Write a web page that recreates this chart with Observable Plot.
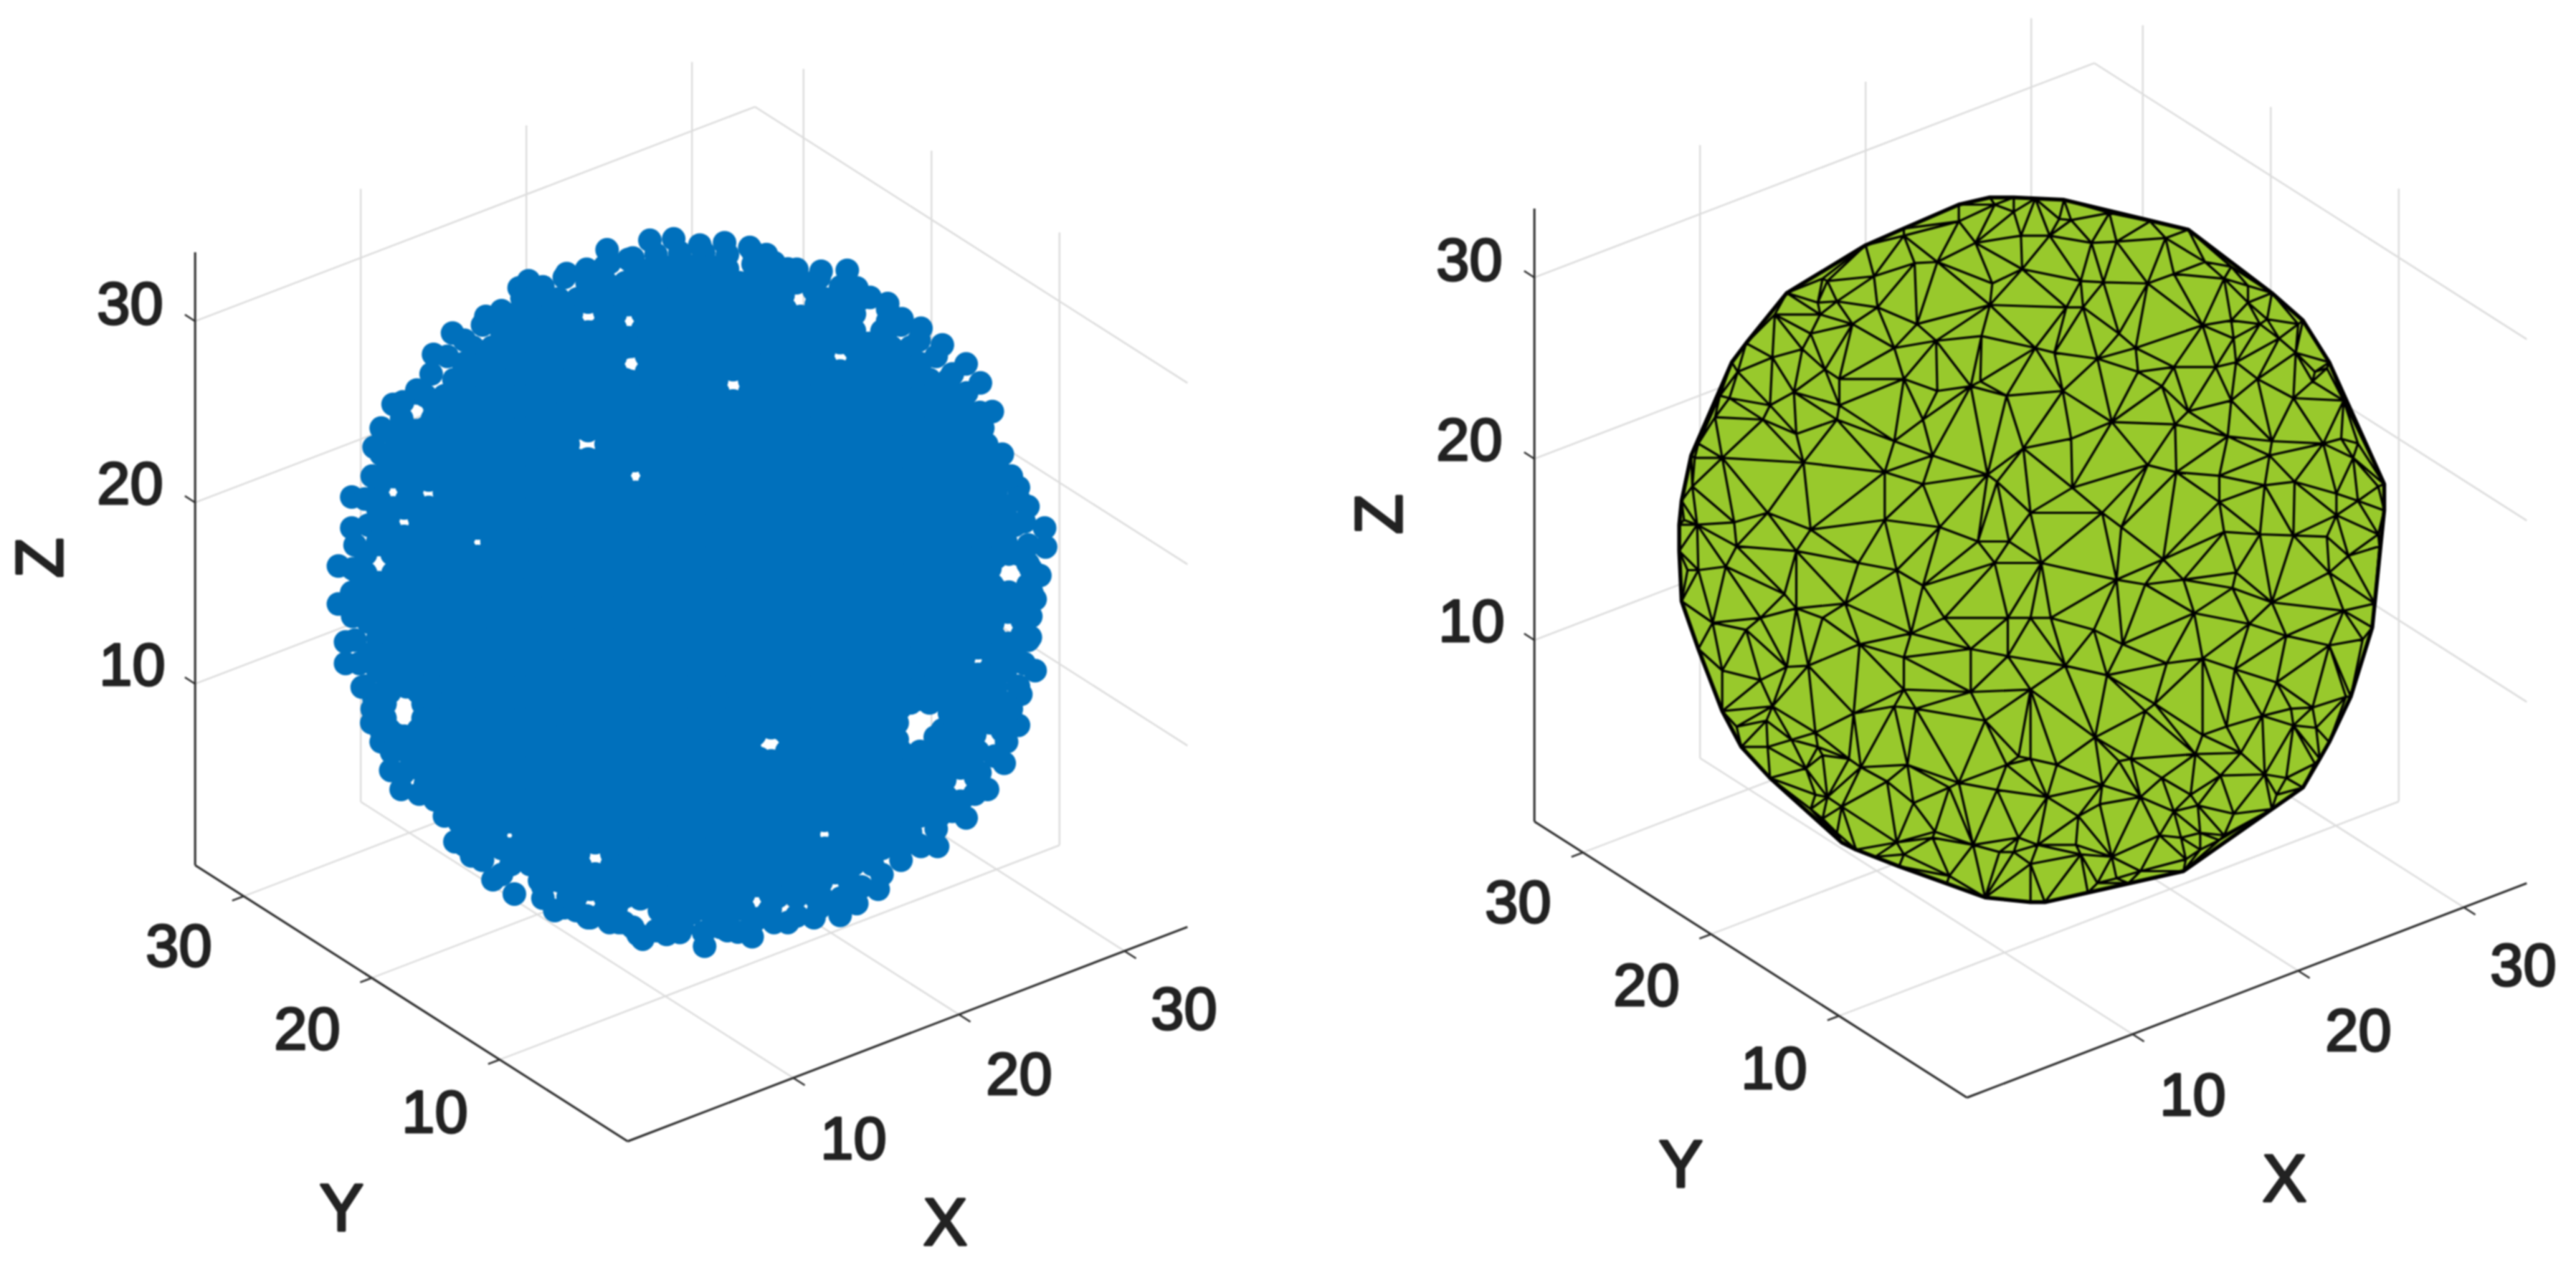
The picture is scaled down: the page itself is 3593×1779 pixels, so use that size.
<!DOCTYPE html>
<html><head><meta charset="utf-8">
<style>html,body{margin:0;padding:0;background:#fff}svg{display:block}</style>
<script src="https://cdn.jsdelivr.net/npm/d3@7"></script>
<script src="https://cdn.jsdelivr.net/npm/@observablehq/plot@0.6"></script>
</head><body><div id="chart"></div>
<script>
// axis ticks (data units) shared by both panels
const ticks = [10, 20, 30];
const axisMax = 33.8;
// projection of the 3-D box
const origin = [875, 1592];
const xVec = [23.1, -8.85], yVec = [-17.85, -11.4], zVec = [0, -25.3];
const panelShift = [[0, 0], [1868, -61]];

// tick label anchors
const zTickLabels = [[10, 184, 929], [20, 181, 676], [30, 181, 425]];
const yTickLabels = [[10, 606, 1553], [20, 428, 1437], [30, 249, 1321]];
const xTickLabels = [[10, 1190, 1590], [20, 1421, 1500], [30, 1651, 1409]];
const axisTitles = [["X", 1318, 1707, 0], ["Y", 476, 1687, 0], ["Z", 57, 778, -90]];

const cloudRim = [[605,65],[650,85],[695,45],[745,42],[800,55],[852,50],[905,60],[940,75],[925,110],[960,110],[985,105],[1055,110],[1110,108],[1130,145],[1195,178],[1225,210],[1265,230],[1310,265],[1360,305],[1390,345],[1415,405],[1395,440],[1425,515],[1470,565],[1490,605],[1525,650],[1527,690],[1515,750],[1505,800],[1495,880],[1505,950],[1475,1000],[1470,1065],[1440,1145],[1405,1200],[1360,1260],[1300,1320],[1265,1320],[1175,1410],[1130,1440],[1095,1465],[1040,1470],[985,1480],[910,1510],[880,1500],[810,1530],[730,1505],[680,1515],[630,1480],[565,1470],[495,1455],[470,1405],[410,1420],[365,1390],[320,1340],[285,1310],[295,1270],[210,1210],[172,1200],[150,1160],[130,1100],[110,1060],[115,1010],[90,985],[55,935],[55,890],[40,810],[40,730],[68,650],[68,585],[115,590],[115,480],[130,440],[155,390],[205,360],[240,285],[280,240],[350,205],[420,145],[440,130],[520,115],[560,115],[600,100]];
// second band of dots just inside the rim
const cloudBand = [[1498,786],[1496,836],[1491,886],[1482,935],[1470,983],[1455,1031],[1436,1077],[1389,1165],[1331,1246],[1297,1283],[1261,1317],[1223,1349],[1183,1379],[1140,1405],[1096,1429],[1051,1449],[1004,1466],[956,1480],[907,1490],[858,1497],[808,1501],[758,1501],[708,1497],[659,1490],[610,1480],[562,1466],[515,1449],[470,1429],[383,1379],[343,1349],[305,1317],[177,1165],[152,1122],[130,1077],[111,1031],[96,983],[84,935],[75,886],[70,836],[68,786],[70,736],[75,686],[96,589],[111,541],[130,495],[152,450],[205,366],[235,326],[269,289],[305,255],[343,223],[383,193],[426,167],[470,143],[515,123],[562,106],[610,92],[659,82],[708,75],[758,71],[808,71],[858,75],[920,80],[956,92],[1004,106],[1051,123],[1096,143],[1140,167],[1195,190],[1223,223],[1261,255],[1297,289],[1331,326],[1361,366],[1389,407],[1436,495],[1455,541],[1470,589],[1482,637],[1491,686],[1496,736]];
// dots that close in on each small white gap of the cloud
const cloudGapEdges = [[218,1020],[218,1050],[138,1020],[138,1050],[178,1088],[178,982],[148,1075],[208,1075],[148,995],[208,995],
[1310,1075],[1300,1110],[1215,1060],[1220,1030],[1262,1010],[1300,1000],[1215,1095],[1262,1125],[1295,1090],[1325,1040],
[950,1070],[915,1085],[985,1085],[905,1115],[995,1125],[950,1140],[925,1135],[975,1075],
[1450,705],[1410,735],[1415,770],[1450,785],[1490,770],[1490,725],[1470,705],
[1410,1060],[1378,1085],[1385,1120],[1420,1130],[1445,1100],[1440,1070],
[1348,1155],[1315,1180],[1318,1215],[1348,1225],[1378,1210],[1380,1175],
[1448,827],[1416,850],[1420,880],[1448,893],[1478,875],[1478,845],
[1385,902],[1355,922],[1360,950],[1385,958],[1412,945],[1414,915],
[1158,165],[1195,215],[1190,245],[1125,200],[1125,235],[1155,262],
[1010,128],[975,160],[980,190],[1012,205],[1045,180],[1040,150],
[858,105],[858,128],[885,145],[912,125],[912,95],[912,70],
[622,200],[622,230],[650,250],[680,232],[680,198],[650,180],
[565,175],[530,198],[535,225],[565,238],[600,220],[600,195],
[655,268],[622,290],[622,320],[655,342],[688,322],[688,288],
[175,385],[173,420],[205,445],[238,420],[238,385],
[870,317],[835,340],[838,365],[870,383],[905,365],[905,340],
[1095,260],[1060,280],[1062,305],[1095,320],[1130,305],[1130,280],
[530,445],[565,445],[600,445],[530,505],[565,505],[600,505],[510,475],[622,475],
[665,505],[635,525],[635,555],[665,575],[695,555],[695,525],
[230,549],[195,567],[197,590],[230,607],[265,590],[263,567],
[178,608],[145,628],[147,650],[178,668],[211,650],[210,628],
[155,542],[126,560],[126,590],[155,608],[184,590],[184,560],
[125,685],[97,705],[97,745],[125,765],[155,745],[153,705],
[333,650],[305,665],[305,695],[333,710],[361,695],[361,665],
[580,1312],[545,1335],[548,1360],[580,1378],[615,1360],[615,1335],
[400,1268],[374,1283],[374,1311],[400,1326],[426,1311],[426,1283],
[920,1402],[892,1420],[892,1452],[920,1472],[948,1452],[948,1420],
[675,1430],[715,1455],[730,1490],[625,1445],[640,1480],[670,1505],[620,1420],
[570,1410],[540,1425],[540,1455],[570,1470],[600,1455],[600,1425],
[1085,1375],[1055,1395],[1055,1425],[1085,1441],[1115,1425],[1115,1395],
[1062,1265],[1030,1285],[1030,1305],[1062,1325],[1094,1305],[1094,1285]];
// blue scatter: interior dots by row (vertical position, then horizontal positions)
const cloudRows = [
[100,[663,703,743,783,823]],
[134,[563,603,643,683,723,763,803,843,883,923,963,1003]],
[168,[463,503,543,583,623,663,703,743,783,823,863,903,943,1063,1103]],
[202,[403,443,483,523,603,683,723,763,803,843,883,923,963,1043,1083]],
[236,[383,423,463,503,543,583,623,703,743,783,823,863,903,943,983,1023,1063,1103,1183]],
[270,[323,363,403,443,483,523,563,603,643,683,723,763,803,843,883,923,963,1003,1043,1123,1163,1203,1243]],
[304,[303,343,383,423,463,503,543,583,703,743,783,823,863,903,943,983,1023,1063,1143,1183,1223,1263]],
[338,[283,323,363,403,443,483,523,563,603,643,683,723,763,803,923,963,1003,1043,1083,1123,1163,1203,1243,1283,1323]],
[372,[223,263,303,343,383,423,463,503,543,583,623,663,703,743,783,823,903,943,983,1023,1063,1103,1143,1183,1223,1263,1303,1343]],
[406,[243,283,323,363,403,443,483,523,563,603,643,683,723,763,803,843,883,923,963,1003,1043,1083,1123,1163,1203,1243,1283,1323,1363]],
[440,[183,223,263,303,343,383,423,463,503,543,583,623,663,703,743,783,823,863,903,943,983,1023,1063,1103,1143,1183,1223,1263,1303,1343,1383]],
[474,[163,203,243,283,323,363,403,443,483,523,603,643,683,723,763,803,843,883,923,963,1003,1043,1083,1123,1163,1203,1243,1283,1323,1363,1403]],
[508,[143,183,223,263,303,343,383,423,463,503,543,583,623,663,703,743,783,823,863,903,943,983,1023,1063,1103,1143,1183,1223,1263,1303,1343,1383,1423]],
[542,[123,163,203,243,283,323,363,403,443,483,523,563,603,723,763,803,843,883,923,963,1003,1043,1083,1123,1163,1203,1243,1283,1323,1363,1403,1443]],
[576,[263,303,343,383,423,463,503,543,583,623,663,703,743,783,823,863,903,943,983,1023,1063,1103,1143,1183,1223,1263,1303,1343,1383,1423]],
[610,[123,203,243,283,323,363,403,443,483,523,563,603,643,683,723,763,803,843,883,923,963,1003,1043,1083,1123,1163,1203,1243,1283,1323,1363,1403,1443]],
[644,[103,143,223,263,303,343,383,423,463,503,543,583,623,663,703,743,783,823,863,903,943,983,1023,1063,1103,1143,1183,1223,1263,1303,1343,1383,1423,1463]],
[678,[123,163,203,243,283,363,403,443,483,523,563,603,643,683,723,763,803,843,883,923,963,1003,1043,1083,1123,1163,1203,1243,1283,1323,1363,1403,1443]],
[712,[183,223,263,303,343,383,423,463,503,543,583,623,663,703,743,783,823,863,903,943,983,1023,1063,1103,1143,1183,1223,1263,1303,1343,1383,1423]],
[746,[83,163,203,243,283,323,363,403,443,483,523,563,603,643,683,723,763,803,843,883,923,963,1003,1043,1083,1123,1163,1203,1243,1283,1323,1363,1403]],
[780,[103,143,183,223,263,303,343,383,423,463,503,543,583,623,663,703,743,783,823,863,903,943,983,1023,1063,1103,1143,1183,1223,1263,1303,1343,1383,1423]],
[814,[83,123,163,203,243,283,323,363,403,443,483,523,563,603,643,683,723,763,803,843,883,923,963,1003,1043,1083,1123,1163,1203,1243,1283,1323,1363,1403,1443,1483]],
[848,[103,143,183,223,263,303,343,383,423,463,503,543,583,623,663,703,743,783,823,863,903,943,983,1023,1063,1103,1143,1183,1223,1263,1303,1343,1383]],
[882,[123,163,203,243,283,323,363,403,443,483,523,563,603,643,683,723,763,803,843,883,923,963,1003,1043,1083,1123,1163,1203,1243,1283,1323,1363,1403]],
[916,[103,143,183,223,263,303,343,383,423,463,503,543,583,623,663,703,743,783,823,863,903,943,983,1023,1063,1103,1143,1183,1223,1263,1303,1343,1423,1463]],
[950,[123,163,203,243,283,323,363,403,443,483,523,563,603,643,683,723,763,803,843,883,923,963,1003,1043,1083,1123,1163,1203,1243,1283,1323,1443]],
[984,[143,183,223,263,303,343,383,423,463,503,543,583,623,663,703,743,783,823,863,903,943,983,1023,1063,1103,1143,1183,1223,1263,1303,1343,1383,1423]],
[1018,[123,243,283,323,363,403,443,483,523,563,603,643,683,723,763,803,843,883,923,963,1003,1043,1083,1123,1163,1203,1243,1283,1323,1363,1403,1443]],
[1052,[223,263,303,343,383,423,463,503,543,583,623,663,703,743,783,823,863,903,943,983,1023,1063,1103,1143,1183,1343,1383,1423]],
[1086,[163,203,243,283,323,363,403,443,483,523,563,603,643,683,723,763,803,843,883,1003,1043,1083,1123,1163,1203,1323,1363]],
[1120,[183,223,263,303,343,383,423,463,503,543,583,623,663,703,743,783,823,863,903,983,1023,1063,1103,1143,1183,1223,1263,1303,1343,1383]],
[1154,[203,243,283,323,363,403,443,483,523,563,603,643,683,723,763,803,843,883,923,963,1003,1043,1083,1123,1163,1203,1243,1283,1323,1363]],
[1188,[223,263,303,343,383,423,463,503,543,583,623,663,703,743,783,823,863,903,943,983,1023,1063,1103,1143,1183,1223,1263,1303]],
[1222,[243,283,323,363,403,443,483,523,563,603,643,683,723,763,803,843,883,923,963,1003,1043,1083,1123,1163,1203,1243,1283,1323]],
[1256,[263,303,343,383,423,463,503,543,583,623,663,703,743,783,823,863,903,943,983,1023,1063,1103,1143,1183,1223,1263,1303]],
[1290,[323,363,443,483,523,563,603,643,683,723,763,803,843,883,923,963,1003,1123,1163,1203,1243]],
[1324,[343,383,423,463,503,543,623,663,703,743,783,823,863,903,943,983,1023,1063,1103,1143,1183,1223]],
[1358,[403,443,483,523,643,683,723,763,803,843,883,923,963,1003,1043,1083,1123,1163]],
[1392,[463,503,543,583,623,663,703,743,783,823,863,903,943,983,1023]],
[1426,[523,603,643,683,723,763,803,843,883,963,1003,1043]],
[1460,[623,743,783,823,863,943]],
[1490,[763,843]]
];

const meshTopLeft = [[20,1400],[30,1300],[75,1240],[70,1110],[100,1060],[170,950],[190,860],[240,720],[300,640],[420,520],[470,430],[620,370],[800,230],[960,160],[1190,60],[1320,30],[1420,30],[960,190],[1005,305],[1100,300],[1190,130],[1260,220],[1340,60],[1420,90],[1450,190],[1455,330],[1330,390],[1320,480],[835,360],[640,380],[600,470],[680,465],[850,490],[610,520],[745,560],[570,600],[410,700],[535,665],[1015,560],[1095,630],[1285,610],[920,660],[630,750],[1280,800],[1240,820],[1390,860],[1100,840],[960,790],[690,790],[500,845],[400,900],[230,870],[265,760],[690,900],[1040,960],[680,960],[510,1020],[370,960],[920,1050],[1080,1110],[880,1180],[540,1140],[200,1120],[85,1120],[1040,1230],[1310,1190],[1350,1220],[1460,1080],[1110,1410],[880,1380],[570,1420],[390,1350],[250,1390],[95,1400],[40,1380],[260,1490],[1400,1470],[1490,1350],[1270,1470]];
const meshTopRight = [[10,35],[130,40],[320,95],[490,130],[650,165],[830,320],[1000,430],[1130,545],[1240,720],[1300,880],[1360,1060],[1470,1230],[1470,1340],[1450,1490],[110,120],[160,125],[70,190],[245,220],[350,215],[555,200],[590,350],[800,370],[200,380],[295,385],[480,390],[140,490],[210,490],[360,600],[430,660],[710,565],[830,545],[850,720],[590,740],[765,740],[270,705],[90,680],[440,760],[540,820],[650,925],[830,880],[940,790],[1110,560],[1230,745],[1170,800],[1090,870],[1000,1050],[990,1110],[1215,1060],[1290,1040],[815,1030],[595,980],[330,970],[160,1040],[125,840],[480,1150],[600,1180],[780,1195],[970,1235],[1095,1220],[1270,1270],[1360,1300],[1445,1240],[1270,1360],[780,1305],[165,1245],[290,1350],[370,1410],[1090,1445],[950,1440],[800,1430],[1340,1120],[1445,1440],[1230,1450],[10,660],[840,620],[980,540],[900,470],[950,560],[1030,620],[1100,680],[1180,760],[720,300],[900,400]];
const meshBottomLeft = [[20,10],[30,220],[100,420],[200,680],[280,830],[400,960],[570,1090],[700,1230],[940,1330],[1140,1400],[1300,1460],[1490,1480],[100,90],[215,75],[55,90],[510,10],[460,190],[510,250],[360,290],[160,310],[300,340],[620,290],[715,230],[770,60],[930,90],[1040,155],[1130,290],[1340,60],[1490,290],[1395,290],[990,355],[775,400],[960,455],[1240,420],[1395,450],[470,495],[560,490],[360,550],[200,510],[960,590],[1240,600],[1490,590],[1300,720],[750,690],[1010,670],[920,660],[410,660],[590,770],[385,720],[260,745],[390,830],[490,800],[600,830],[730,880],[975,905],[780,915],[620,865],[550,920],[890,975],[1150,1000],[1190,980],[1350,1010],[1390,905],[1440,870],[1490,880],[1000,1065],[700,1080],[590,1030],[1090,1185],[930,1230],[1080,1210],[1250,1240],[1360,1270],[1420,1270],[1150,1370],[1440,1210],[960,1280],[640,1040],[1490,1320],[620,1130],[680,1190],[760,1260],[840,1290]];
const meshBottomRight = [[1430,230],[1420,330],[1330,620],[1240,810],[1000,1090],[780,1220],[630,1350],[400,1400],[230,1440],[50,1480],[35,60],[350,130],[470,150],[630,130],[545,45],[835,165],[850,100],[1000,225],[1240,100],[1320,30],[75,290],[255,340],[675,270],[905,315],[1060,365],[1240,405],[375,400],[135,490],[310,530],[560,480],[710,460],[845,505],[1020,560],[1170,665],[510,650],[260,790],[470,680],[960,700],[1080,670],[810,745],[710,780],[1090,740],[1185,750],[680,860],[870,855],[410,880],[360,890],[100,905],[970,945],[540,960],[785,950],[290,990],[60,1040],[450,1040],[660,1030],[590,1100],[280,1070],[190,1120],[840,1110],[1020,1030],[690,1075],[530,1200],[700,1190],[180,1240],[330,1290],[620,1210],[200,1280],[20,1240],[270,1400],[640,1300],[1300,260],[1380,380],[1310,620],[1180,900],[1060,960],[1130,1000],[1200,880],[800,1200],[700,1260],[450,1350],[350,1380]];

// ---- tables built from the lists above ----
const project = (X, Y, Z, p) => [
  origin[0] + X * xVec[0] + Y * yVec[0] + Z * zVec[0] + panelShift[p][0],
  origin[1] + X * xVec[1] + Y * yVec[1] + Z * zVec[1] + panelShift[p][1]
];
const seg = (a, b, p) => {
  const [x1, y1] = project(...a, p), [x2, y2] = project(...b, p);
  return {x1, y1, x2, y2};
};
const M = axisMax;
const grid = [], axes = [], tickMarks = [], labels = [], titles = [];
[0, 1].forEach(p => {
  for (const t of ticks) {
    grid.push(seg([0, M, t], [M, M, t], p), seg([M, M, t], [M, 0, t], p));
    grid.push(seg([t, M, 0], [t, M, M], p), seg([M, t, 0], [M, t, M], p));
    grid.push(seg([t, 0, 0], [t, M, 0], p), seg([0, t, 0], [M, t, 0], p));
    tickMarks.push(seg([t, 0, 0], [t, -0.9, 0], p));
    tickMarks.push(seg([0, t, 0], [-0.7, t, 0], p));
    tickMarks.push(seg([0, M, t], [0, M + 0.8, t], p));
  }
  axes.push(seg([0, 0, 0], [M, 0, 0], p), seg([0, 0, 0], [0, M, 0], p), seg([0, M, 0], [0, M, M], p));
  for (const [t, x, y] of [...zTickLabels, ...yTickLabels, ...xTickLabels])
    labels.push({text: String(t), x: x + panelShift[p][0], y: y + panelShift[p][1]});
  for (const [text, x, y, rotate] of axisTitles)
    titles.push({text, x: x + panelShift[p][0], y: y + panelShift[p][1], rotate});
});
const toCloud = ([cx, cy]) => ({x: 445 + cx * 0.6633, y: 305 + cy * 0.6633});
const cloud = [...cloudRim, ...cloudBand, ...cloudGapEdges].map(toCloud)
  .concat(cloudRows.flatMap(([cy, xs]) => xs.map(cx => toCloud([cx, cy]))));
const toMesh = (list, ox, oy) => list.map(([a, b]) => ({x: ox + a / 3, y: oy + b / 3}));
const mesh = [...toMesh(meshTopLeft, 2335, 265), ...toMesh(meshTopRight, 2835, 265),
  ...toMesh(meshBottomLeft, 2335, 765), ...toMesh(meshBottomRight, 2835, 765)];

const font = {fontFamily: "Liberation Sans, Arial, sans-serif", fill: "#222", stroke: "#222", textAnchor: "middle", lineAnchor: "middle"};
const linkOpts = {x1: "x1", y1: "y1", x2: "x2", y2: "y2"};

const chart = Plot.plot({
  width: 3593, height: 1779, margin: 0,
  style: {background: "#fff", filter: "blur(0.8px)"},
  x: {domain: [0, 3593], range: [0, 3593], axis: null},
  y: {domain: [0, 1779], range: [0, 1779], axis: null},
  marks: [
    Plot.link(grid, {...linkOpts, stroke: "#dcdcdc", strokeWidth: 2.4}),
    Plot.link(axes, {...linkOpts, stroke: "#2b2b2b", strokeWidth: 3}),
    Plot.link(tickMarks, {...linkOpts, stroke: "#2b2b2b", strokeWidth: 2.5}),
    Plot.dot(cloud, {x: "x", y: "y", r: 16.5, fill: "#0070bc"}),
    Plot.hull(mesh, {x: "x", y: "y", fill: "#98c92c", stroke: "#000", strokeWidth: 5.5, fillOpacity: 1, strokeOpacity: 1}),
    Plot.delaunayMesh(mesh, {x: "x", y: "y", stroke: "#000", strokeWidth: 3.2, strokeOpacity: 1}),
    Plot.text(labels, {x: "x", y: "y", text: "text", fontSize: 83, strokeWidth: 3, ...font}),
    Plot.text(titles, {x: "x", y: "y", text: "text", rotate: "rotate", fontSize: 92, strokeWidth: 3.5, ...font})
  ]
});
document.getElementById("chart").append(chart);
</script></body></html>
